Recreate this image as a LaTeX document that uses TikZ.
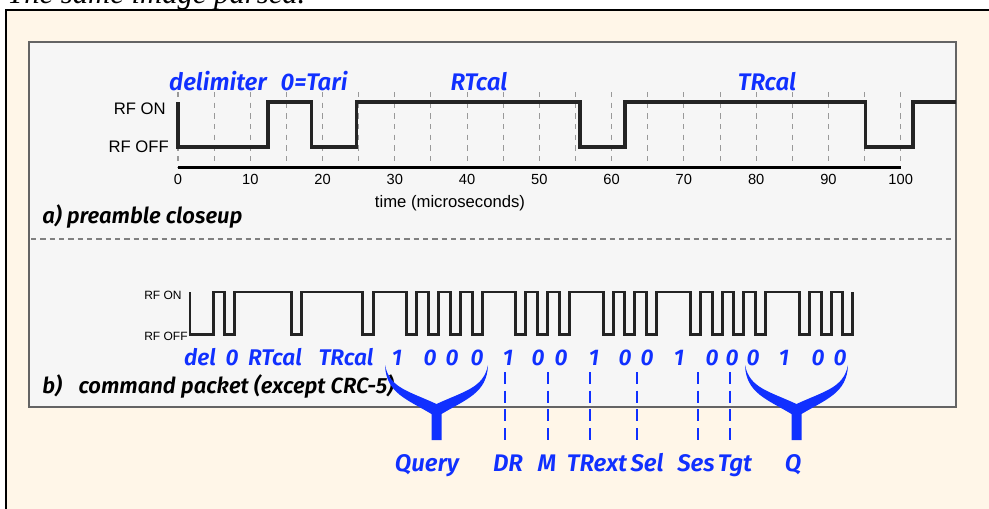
\documentclass[tikz,border=0pt]{standalone}
\usepackage{fontspec}
\setmainfont{Liberation Sans}
\newfontfamily\serifit{Liberation Serif}
\newfontfamily\lab{Fira Sans SemiBold Italic}
\definecolor{blu}{RGB}{16,48,255}
\definecolor{cream}{RGB}{255,246,232}
\definecolor{panel}{RGB}{246,246,246}
\definecolor{pborder}{RGB}{100,100,100}
\definecolor{wavec}{RGB}{36,36,36}
\newcommand\mybrace[1]{%
 \fill[blu] ({#1-51.5},365) .. controls ({#1-50.5},393) and ({#1-30},399) .. ({#1-5},414) -- ({#1-5},440) -- ({#1+5},440) -- ({#1+5},414) .. controls ({#1+30},399) and ({#1+50.5},393) .. ({#1+51.5},365) .. controls ({#1+47},388) and ({#1+28},391) .. (#1,404) .. controls ({#1-28},391) and ({#1-47},388) .. ({#1-51.5},365) -- cycle;}
\tikzset{
 wave/.style={draw=wavec, line width=2.6pt, line join=miter},
 waveb/.style={draw=wavec, line width=2.2pt, line join=miter},
 gridl/.style={draw=gray!80, line width=0.8pt, dash pattern=on 4pt off 4pt},
 ticklab/.style={font=\fontsize{11}{11}\selectfont, inner sep=0pt},
 rflab/.style={font=\fontsize{12.5}{12.5}\selectfont, inner sep=0pt},
 rfsmall/.style={font=\fontsize{9}{9}\selectfont, inner sep=0pt, anchor=west},
 bluelab/.style={font=\lab\fontsize{18}{18}\selectfont, text=blu, inner sep=0pt, anchor=base},
 bitlab/.style={font=\lab\fontsize{17}{17}\selectfont, text=blu, inner sep=0pt, anchor=base},
 caption/.style={font=\lab\fontsize{16.5}{16.5}\selectfont, inner sep=0pt, anchor=base west},
 fieldline/.style={draw=blu, line width=2.2pt, dash pattern=on 9pt off 5pt},
}
\begin{document}
\begin{tikzpicture}[x=0.75pt,y=-0.75pt]
\useasboundingbox (0,0) rectangle (989,508);
\clip (0,0) rectangle (989,508);
\fill[white] (0,0) rectangle (989,508);
\node[anchor=base west, inner sep=0pt, font=\serifit\itshape\fontsize{23}{23}\selectfont] (title) at (7,3) {The same image parsed.};
\draw[line width=2pt, fill=cream] (6,10) rectangle (1000,520);
\draw[draw=pborder, line width=1.2pt, fill=panel] (29,42) rectangle (956,407);
\draw[draw=gray, line width=0.8pt, dash pattern=on 4pt off 3pt] (31,239) -- (954,239);
% part a grid
\foreach \t in {0,5,...,100} \draw[gridl] ({178+\t*7.227},92) -- ({178+\t*7.227},167);
\draw[line width=2pt, black] (178,167.5) -- (900.7,167.5);
\foreach \t in {0,10,...,100} \node[ticklab] (tk\t) at ({178+\t*7.227},179) {\t};
\node[rflab] (timelab) at (450,203) {time (microseconds)};
\node[rflab, anchor=east] (ron) at (166,109) {RF ON};
\node[rflab, anchor=east] (roff) at (169,147) {RF OFF};
\draw[wave] (178,102) -- (178,147) -- (268,147) -- (268,102) -- (311.7,102) -- (311.7,147) -- (356.7,147) -- (356.7,102) -- (580,102) -- (580,147) -- (625,147) -- (625,102) -- (865.7,102) -- (865.7,147) -- (913,147) -- (913,102) -- (956,102);
\node[bluelab] (ldel) at (218,90) {delimiter};
\node[bluelab] (ltari) at (314,90) {0=Tari};
\node[bluelab] (lrt) at (479,90) {RTcal};
\node[bluelab] (ltr) at (767,90) {TRcal};
\node[caption] (capa) at (42,223) {a) preamble closeup};
% part b
\node[rfsmall] (ron2) at (144,295) {RF ON};
\node[rfsmall] (roff2) at (144,336.5) {RF OFF};
\draw[waveb] (190,292) -- (190,334.5) -- (213.3,334.5) -- (213.3,292) -- (224.3,292) -- (224.3,334.5) -- (234.3,334.5) -- (234.3,292) -- (291.7,292) -- (291.7,334.5) -- (301.7,334.5) -- (301.7,292) -- (362.7,292) -- (362.7,334.5) -- (373.3,334.5) -- (373.3,292)
 \foreach \a/\b in {406.9/416.9,428.7/438.7,450.5/460.5,472.3/482.3,515.9/525.9,537.7/547.7,559.5/569.5,603.1/613.1,624.9/634.9,646.7/656.7,690.3/700.3,712.1/722.1,733.9/743.9,755.7/765.7,799.3/809.3,821.1/831.1,842.9/852.9} { -- (\a,292) -- (\a,334.5) -- (\b,334.5) -- (\b,292) };
\node[caption] (capb) at (42,393) {b)\hspace{0.75em}command packet (except CRC-5)};
\node[bitlab] (bdel) at (200,365) {del};
\node[bitlab] (bz) at (232,365) {0};
\node[bitlab] (brt) at (275,365) {RTcal};
\node[bitlab] (btr) at (346,365) {TRcal};
\foreach \x/\v [count=\i] in {397/1,430/0,452/0,477/0,508/1,538/0,561/0,594/1,625/0,647/0,679/1,712/0,732/0,753/0,784/1,818/0,840/0}
 \node[bitlab] (bit\i) at (\x,365) {\v};
\mybrace{436.5}
\mybrace{796.5}
\foreach \x [count=\i] in {505,548,590,637,698,730} \draw[fieldline] (\x,372) -- (\x,442);
\node[bluelab] (fq) at (427,471.5) {Query};
\node[bluelab] (fdr) at (508,471.5) {DR};
\node[bluelab] (fm) at (547,471.5) {M};
\node[bluelab] (ftr) at (597,471.5) {TRext};
\node[bluelab] (fsel) at (647,471.5) {Sel};
\node[bluelab] (fses) at (696,471.5) {Ses};
\node[bluelab] (ftgt) at (735,471.5) {Tgt};
\node[bluelab] (fqq) at (793,471.5) {Q};
\end{tikzpicture}
\end{document}
